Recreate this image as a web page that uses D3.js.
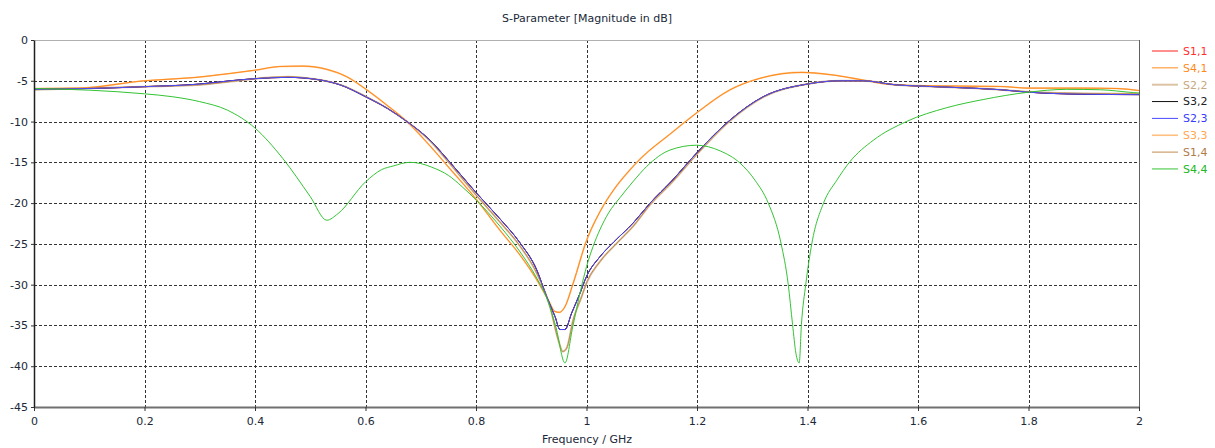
<!DOCTYPE html>
<html><head><meta charset="utf-8">
<script src="https://cdn.jsdelivr.net/npm/d3@7"></script>
<style>
html,body{margin:0;padding:0;background:#fff;}
svg{display:block;font-family:"DejaVu Sans",Verdana,sans-serif;}
</style></head>
<body><svg id="c" width="1215" height="448"></svg>
<script>
const xTicks = [0,0.2,0.4,0.6,0.8,1,1.2,1.4,1.6,1.8,2];
const xTickLabels = ["0","0.2","0.4","0.6","0.8","1","1.2","1.4","1.6","1.8","2"];
const yTicks = [0,-5,-10,-15,-20,-25,-30,-35,-40,-45];
const yTickLabels = ["0","-5","-10","-15","-20","-25","-30","-35","-40","-45"];

// "blue" shaped responses (S1,1 / S3,2 / S2,3)
const fBlue = [0,0.11,0.2,0.3,0.355,0.4,0.46,0.51,0.555,0.6,0.64,0.675,0.717,0.753,0.8,0.843,0.88,0.91,0.928,0.943,0.952,0.961,0.973,0.988,1.0,1.024,1.049,1.085,1.115,1.154,1.2,1.26,1.32,1.4,1.46,1.5,1.56,1.6,1.66,1.75,1.8,1.9,2.0];
const s11 = [-6.05,-5.93,-5.72,-5.4,-5.0,-4.74,-4.58,-4.82,-5.52,-6.95,-8.4,-10.0,-12.3,-15.0,-18.7,-21.9,-24.9,-28.2,-31.5,-33.9,-35.5,-35.5,-33.5,-31.1,-29.0,-26.6,-24.8,-22.4,-20.0,-17.3,-13.8,-9.8,-6.95,-5.4,-5.0,-5.0,-5.5,-5.64,-5.8,-6.1,-6.4,-6.65,-6.7];
const s32 = [-6.05,-5.93,-5.72,-5.4,-5.0,-4.74,-4.58,-4.82,-5.52,-6.95,-8.4,-10.0,-12.3,-15.0,-18.7,-21.9,-24.9,-28.2,-31.5,-33.9,-35.5,-35.5,-33.5,-31.1,-29.0,-26.6,-24.8,-22.4,-20.0,-17.3,-13.8,-9.8,-6.95,-5.4,-5.0,-5.0,-5.5,-5.64,-5.8,-6.1,-6.4,-6.65,-6.7];
const s23 = [-6.05,-5.93,-5.72,-5.4,-5.0,-4.74,-4.58,-4.82,-5.52,-6.95,-8.4,-10.0,-12.3,-15.0,-18.7,-21.9,-24.9,-28.2,-31.5,-33.9,-35.5,-35.5,-33.5,-31.1,-29.0,-26.6,-24.8,-22.4,-20.0,-17.3,-13.8,-9.8,-6.95,-5.4,-5.0,-5.0,-5.5,-5.64,-5.8,-6.1,-6.4,-6.65,-6.7];

// "tan" shaped responses (S2,2 / S1,4)
const fTan = [0,0.11,0.2,0.3,0.355,0.4,0.46,0.51,0.555,0.6,0.64,0.675,0.717,0.753,0.8,0.843,0.88,0.91,0.934,0.949,0.957,0.964,0.976,0.991,1.0,1.024,1.055,1.085,1.115,1.154,1.2,1.26,1.32,1.4,1.46,1.5,1.56,1.6,1.66,1.75,1.8,1.9,2.0];
const s22 = [-6.1,-5.9,-5.72,-5.5,-5.1,-4.74,-4.5,-4.82,-5.5,-6.9,-8.4,-10.0,-12.4,-15.2,-19.0,-22.3,-25.3,-28.6,-32.7,-36.8,-38.2,-37.8,-34.3,-31.5,-29.8,-27.2,-24.9,-22.8,-20.2,-17.5,-14.0,-9.9,-7.0,-5.4,-5.0,-5.0,-5.5,-5.64,-5.8,-6.1,-6.35,-6.55,-6.6];
const s14 = [-6.1,-5.9,-5.72,-5.5,-5.1,-4.74,-4.5,-4.82,-5.5,-6.9,-8.4,-10.0,-12.4,-15.2,-19.0,-22.3,-25.3,-28.6,-32.7,-36.8,-38.2,-37.8,-34.3,-31.5,-29.8,-27.2,-24.9,-22.8,-20.2,-17.5,-14.0,-9.9,-7.0,-5.4,-5.0,-5.0,-5.5,-5.64,-5.8,-6.1,-6.35,-6.55,-6.6];

// "orange" shaped responses (S4,1 / S3,3)
const fOrange = [0,0.08,0.2,0.29,0.355,0.4,0.445,0.487,0.53,0.566,0.602,0.638,0.675,0.717,0.753,0.8,0.843,0.88,0.91,0.931,0.943,0.951,0.961,0.976,1.0,1.024,1.05,1.075,1.1,1.15,1.2,1.26,1.314,1.39,1.447,1.5,1.543,1.6,1.75,1.8,1.9,1.96,2.0];
const s41 = [-5.95,-5.9,-5.0,-4.6,-4.1,-3.7,-3.25,-3.2,-3.6,-4.5,-6.1,-7.95,-10.0,-13.0,-15.8,-19.5,-23.3,-26.4,-29.4,-31.9,-33.3,-33.4,-32.7,-29.8,-24.6,-21.1,-18.3,-16.2,-14.4,-11.6,-8.9,-6.1,-4.7,-3.97,-4.3,-4.9,-5.4,-5.6,-5.7,-5.9,-5.9,-5.95,-6.2];
const s33 = [-5.95,-5.9,-5.0,-4.6,-4.1,-3.7,-3.25,-3.2,-3.6,-4.5,-6.1,-7.95,-10.0,-13.0,-15.8,-19.5,-23.3,-26.4,-29.4,-31.9,-33.3,-33.4,-32.7,-29.8,-24.6,-21.1,-18.3,-16.2,-14.4,-11.6,-8.9,-6.1,-4.7,-3.97,-4.3,-4.9,-5.4,-5.6,-5.7,-5.9,-5.9,-5.95,-6.2];

// S4,4
const fGreen = [0,0.1,0.2,0.25,0.3,0.35,0.4,0.45,0.5,0.53,0.55,0.6,0.629,0.65,0.68,0.7,0.72,0.75,0.775,0.8,0.843,0.88,0.91,0.93,0.945,0.961,0.975,0.99,1.0,1.012,1.024,1.04,1.061,1.085,1.109,1.151,1.199,1.242,1.278,1.305,1.329,1.352,1.365,1.373,1.379,1.385,1.389,1.397,1.408,1.429,1.453,1.477,1.519,1.579,1.652,1.718,1.8,1.869,1.929,1.99,2.0];
const s44 = [-5.95,-6.15,-6.6,-6.95,-7.56,-8.6,-10.8,-14.5,-19.2,-22.1,-21.3,-17.4,-15.9,-15.45,-15.0,-15.15,-15.6,-16.6,-18.0,-19.6,-22.8,-26.0,-29.2,-32.0,-35.3,-39.6,-35.2,-30.5,-27.8,-25.3,-23.3,-21.2,-19.3,-17.3,-15.5,-13.5,-12.9,-13.6,-15.1,-17.2,-20.0,-24.9,-29.9,-34.9,-38.4,-39.6,-34.9,-29.9,-24.9,-20.0,-17.2,-14.9,-12.3,-10.0,-8.3,-7.3,-6.4,-6.05,-6.1,-6.45,-6.5];

const seriesNames = ["S1,1","S4,1","S2,2","S3,2","S2,3","S3,3","S1,4","S4,4"];
const lineColors = ["#ff2020","#ff8a1c","#dcc4a4","#101010","#4848ff","#ffc080","#c08a50","#33c433"];
const textColors = ["#ff3030","#ff8a1c","#c8a880","#202020","#3a3aff","#ffa850","#b07c48","#22b822"];
const lineWidths = [1,1,2,1,1,1.6,1,1];

const series = [
  {f:fBlue, v:s11},{f:fOrange, v:s41},{f:fTan, v:s22},{f:fBlue, v:s32},
  {f:fBlue, v:s23},{f:fOrange, v:s33},{f:fTan, v:s14},{f:fGreen, v:s44}
];

const L=34,R=1139,T=40,B=407;
const svg = d3.select("#c");
const x = d3.scaleLinear().domain([0,2]).range([L,R]);
const y = d3.scaleLinear().domain([-45,0]).range([B,T]);

svg.append("defs").append("clipPath").attr("id","clip")
  .append("rect").attr("x",L).attr("y",T).attr("width",R-L).attr("height",B-T);

// grid
const grid = svg.append("g");
grid.selectAll("line.vx").data(xTicks.slice(1,-1)).enter().append("line")
  .attr("x1",d=>Math.round(x(d))+0.5).attr("x2",d=>Math.round(x(d))+0.5)
  .attr("y1",T).attr("y2",B).attr("stroke","#333").attr("stroke-dasharray","3,2");
grid.selectAll("line.hy").data(yTicks.slice(1,-1)).enter().append("line")
  .attr("y1",d=>Math.round(y(d))+0.5).attr("y2",d=>Math.round(y(d))+0.5)
  .attr("x1",L).attr("x2",R).attr("stroke","#333").attr("stroke-dasharray","3,2");

// frame
svg.append("line").attr("x1",L).attr("x2",R).attr("y1",T+0.5).attr("y2",T+0.5).attr("stroke","#b0b0b0");
svg.append("line").attr("x1",R+0.5).attr("x2",R+0.5).attr("y1",T).attr("y2",B).attr("stroke","#606060");

// curves (drawn in legend order; thick light ones under thin ones of same shape)
const order = [2,5,0,1,3,6,4,7];
const line = d3.line().curve(d3.curveMonotoneX);
const cg = svg.append("g").attr("clip-path","url(#clip)");
order.forEach(i=>{
  const s = series[i];
  const pts = s.f.map((f,j)=>[x(f), y(s.v[j])]);
  cg.append("path").attr("d",line(pts)).attr("fill","none")
    .attr("stroke",lineColors[i]).attr("stroke-width",lineWidths[i]);
});

// axes
const xAxis = d3.axisBottom(x).tickValues(xTicks).tickFormat((d,i)=>xTickLabels[i]).tickSize(4).tickSizeOuter(0);
const gx = svg.append("g").attr("transform",`translate(0,${B})`).call(xAxis);
gx.select(".domain").attr("stroke","#707070").attr("stroke-width",2);
gx.selectAll(".tick line").attr("stroke","#333");
gx.selectAll(".tick text").attr("fill","#202838").attr("font-size","11px").attr("dy","1.0em")
  .attr("font-family","DejaVu Sans, sans-serif");

const yAxis = d3.axisLeft(y).tickValues(yTicks).tickFormat((d,i)=>yTickLabels[i]).tickSize(3).tickSizeOuter(0);
const gy = svg.append("g").attr("transform",`translate(${L},0)`).call(yAxis);
gy.select(".domain").attr("stroke","#202020").attr("stroke-width",1.5);
gy.selectAll(".tick line").attr("stroke","#333");
gy.selectAll(".tick text").attr("fill","#202838").attr("font-size","11px").attr("x",-6)
  .attr("font-family","DejaVu Sans, sans-serif");

// title and label
svg.append("text").attr("x",587).attr("y",22).attr("text-anchor","middle")
  .attr("font-size","11px").attr("fill","#202838").text("S-Parameter [Magnitude in dB]");
svg.append("text").attr("x",587).attr("y",443).attr("text-anchor","middle")
  .attr("font-size","11px").attr("fill","#202838").text("Frequency / GHz");

// legend
const lg = svg.append("g");
seriesNames.forEach((n,i)=>{
  const yy = 51 + i*16.85;
  lg.append("line").attr("x1",1152).attr("x2",1178).attr("y1",yy).attr("y2",yy)
    .attr("stroke",lineColors[i]).attr("stroke-width",lineWidths[i]);
  lg.append("text").attr("x",1183).attr("y",yy).attr("dy","0.35em")
    .attr("font-size","11px").attr("fill",textColors[i]).text(n);
});
</script></body></html>
